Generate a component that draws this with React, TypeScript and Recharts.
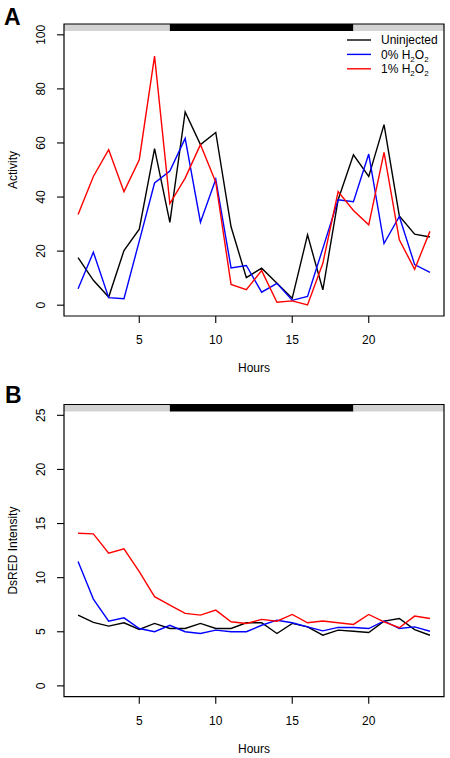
import React from 'react';
import { LineChart, Line, XAxis, YAxis, ReferenceArea } from 'recharts';

// ---------- data ----------
const hours = [1, 2, 3, 4, 5, 6, 7, 8, 9, 10, 11, 12, 13, 14, 15, 16, 17, 18, 19, 20, 21, 22, 23, 24];

const activityUninjected = [17.6, 9.2, 3.0, 20.2, 28.1, 57.9, 30.6, 71.5, 59.4, 63.9, 29.0, 10.2, 13.7, 8.1, 2.6, 26.0, 5.7, 39.0, 55.6, 47.6, 66.8, 33.0, 26.3, 25.2];
const activityH2O2_0 = [6.1, 19.6, 2.8, 2.4, 23.7, 45.2, 49.6, 61.7, 30.7, 46.6, 13.8, 14.7, 4.8, 8.1, 1.8, 3.2, 21.0, 39.0, 38.3, 55.9, 22.8, 32.8, 15.0, 12.1];
const activityH2O2_1 = [33.5, 47.6, 57.5, 42.0, 53.8, 92.1, 37.6, 47.0, 59.4, 45.5, 7.7, 5.7, 12.8, 1.1, 1.6, 0.1, 15.5, 42.0, 35.0, 29.7, 56.5, 24.2, 13.3, 27.3];

const dsredUninjected = [6.54, 5.86, 5.52, 5.83, 5.21, 5.77, 5.3, 5.3, 5.77, 5.3, 5.3, 5.83, 5.83, 4.84, 5.77, 5.45, 4.68, 5.15, 5.05, 4.93, 5.98, 6.23, 5.2, 4.68];
const dsredH2O2_0 = [11.5, 8.02, 5.98, 6.29, 5.3, 5.0, 5.6, 5.0, 4.84, 5.15, 5.0, 5.0, 5.6, 6.07, 5.83, 5.45, 5.08, 5.4, 5.4, 5.3, 6.0, 5.3, 5.45, 5.05];
const dsredH2O2_1 = [14.1, 14.05, 12.26, 12.66, 10.56, 8.24, 7.47, 6.7, 6.54, 7.0, 5.92, 5.77, 6.14, 5.98, 6.6, 5.83, 6.0, 5.83, 5.68, 6.6, 5.92, 5.37, 6.45, 6.23];

const seriesKeys = ['uninjected', 'h0', 'h1'];
const seriesNames = ['Uninjected', '0% H2O2', '1% H2O2'];
const seriesColors = ['#000000', '#0000ff', '#ff0000'];

const xTicks = [5, 10, 15, 20];
const activityTicks = [0, 20, 40, 60, 80, 100];
const dsredTicks = [0, 5, 10, 15, 20, 25];

// light / dark periods (hours)
const lightDark = [
  { from: 0.08, to: 7, color: '#d3d3d3' },
  { from: 7, to: 19, color: '#000000' },
  { from: 19, to: 24.92, color: '#d3d3d3' },
];

const activityData = hours.map((h, i) => ({
  hour: h,
  uninjected: activityUninjected[i],
  h0: activityH2O2_0[i],
  h1: activityH2O2_1[i],
}));
const dsredData = hours.map((h, i) => ({
  hour: h,
  uninjected: dsredUninjected[i],
  h0: dsredH2O2_0[i],
  h1: dsredH2O2_1[i],
}));

const FONT = '"Liberation Sans", Arial, Helvetica, sans-serif';

const XTick = (props: any) => {
  const { x, y, payload } = props;
  return (
    <text x={x} y={y} dy={19} textAnchor="middle" fontSize={12} fill="#000" fontFamily={FONT}>
      {payload.value}
    </text>
  );
};

const YTick = (props: any) => {
  const { x, y, payload } = props;
  return (
    <text
      transform={`translate(${x - 10}, ${y}) rotate(-90)`}
      textAnchor="middle"
      fontSize={12}
      fill="#000"
      fontFamily={FONT}
    >
      {payload.value}
    </text>
  );
};

const renderSub = (s: string) => {
  const parts = s.split(/(\d(?=[A-Z])|(?<=[A-Z])\d)/).filter((p) => p !== '');
  const out: any[] = [];
  let sub = false;
  parts.forEach((p, i) => {
    const isSub = /^\d$/.test(p) && i > 0 && /[A-Z]$/.test(parts[i - 1]);
    if (isSub) {
      out.push(
        <tspan key={i} dy={3} fontSize={8}>
          {p}
        </tspan>
      );
      sub = true;
    } else {
      out.push(
        <tspan key={i} dy={sub ? -3 : 0}>
          {p}
        </tspan>
      );
      sub = false;
    }
  });
  return out;
};

type PanelProps = {
  data: any[];
  domain: [number, number];
  ticks: number[];
  yLabel: string;
  band: [number, number];
  height: number;
  marginTop: number;
  marginBottom: number;
};

const Panel = ({ data, domain, ticks, yLabel, band, height, marginTop, marginBottom }: PanelProps) => (
  <LineChart
    width={450}
    height={height}
    data={data}
    margin={{ top: marginTop, right: 6, bottom: marginBottom, left: 0 }}
  >
    <XAxis
      dataKey="hour"
      type="number"
      domain={[0.08, 24.92]}
      ticks={xTicks}
      allowDataOverflow
      height={40}
      axisLine={false}
      tickSize={7}
      tickLine={{ stroke: '#000', strokeWidth: 1.1 }}
      tick={<XTick />}
      label={{ value: 'Hours', position: 'bottom', offset: 7.8, fill: '#000', fontSize: 12, fontFamily: FONT }}
    />
    <YAxis
      type="number"
      domain={domain}
      ticks={ticks}
      allowDataOverflow
      width={64}
      axisLine={false}
      tickSize={7}
      tickLine={{ stroke: '#000', strokeWidth: 1.1 }}
      tick={<YTick />}
      label={{
        value: yLabel,
        angle: -90,
        position: 'insideLeft',
        offset: 12.7,
        fill: '#000',
        fontSize: 12,
        fontFamily: FONT,
        style: { textAnchor: 'middle' },
      }}
    />
    {lightDark.map((p, i) => (
      <ReferenceArea
        key={i}
        x1={p.from}
        x2={p.to}
        y1={band[0]}
        y2={band[1]}
        fill={p.color}
        fillOpacity={1}
        stroke="none"
        ifOverflow="visible"
      />
    ))}
    <ReferenceArea
      x1={0.08}
      x2={24.92}
      y1={domain[0]}
      y2={domain[1]}
      fill="none"
      fillOpacity={0}
      stroke="#000"
      strokeWidth={1.2}
      ifOverflow="visible"
    />
    {seriesKeys.map((k, i) => (
      <Line
        key={k}
        dataKey={k}
        name={seriesNames[i]}
        stroke={seriesColors[i]}
        strokeWidth={1.4}
        dot={false}
        activeDot={false}
        isAnimationActive={false}
        type="linear"
      />
    ))}
  </LineChart>
);

export default function App() {
  return (
    <div style={{ position: 'absolute', left: 0, top: 0, width: 450, height: 758, background: '#fff', fontFamily: FONT }}>
      <div style={{ position: 'absolute', left: 0, top: 0 }}>
        <Panel
          data={activityData}
          domain={[-4, 104]}
          ticks={activityTicks}
          yLabel="Activity"
          band={[101.4, 104]}
          height={380}
          marginTop={24}
          marginBottom={24}
        />
      </div>
      <div style={{ position: 'absolute', left: 0, top: 380 }}>
        <Panel
          data={dsredData}
          domain={[-1, 26]}
          ticks={dsredTicks}
          yLabel="DsRED Intensity"
          band={[25.35, 26]}
          height={378}
          marginTop={24.5}
          marginBottom={21.3}
        />
      </div>
      <svg
        width={450}
        height={758}
        style={{ position: 'absolute', left: 0, top: 0, pointerEvents: 'none' }}
      >
        <text x={4} y={25} fontSize={23} fontWeight="bold" fontFamily={FONT} fill="#000">
          A
        </text>
        <text x={5} y={403} fontSize={23} fontWeight="bold" fontFamily={FONT} fill="#000">
          B
        </text>
        {seriesNames.map((n, i) => (
          <g key={n}>
            <line x1={347} x2={371} y1={40 + i * 14.4} y2={40 + i * 14.4} stroke={seriesColors[i]} strokeWidth={1.4} />
            <text x={381} y={40 + i * 14.4 + 4.3} fontSize={12} fontFamily={FONT} fill="#000">
              {renderSub(n)}
            </text>
          </g>
        ))}
      </svg>
    </div>
  );
}
